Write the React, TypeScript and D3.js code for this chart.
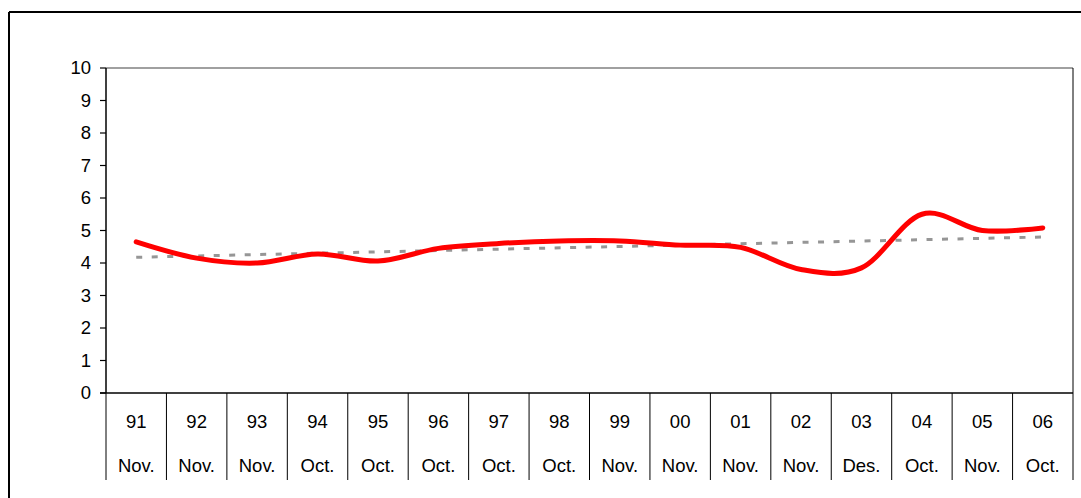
import React, { useEffect, useRef } from "react";
import * as d3 from "d3";

const years = ["91", "92", "93", "94", "95", "96", "97", "98", "99", "00", "01", "02", "03", "04", "05", "06"];
const months = ["Nov.", "Nov.", "Nov.", "Oct.", "Oct.", "Oct.", "Oct.", "Oct.", "Nov.", "Nov.", "Nov.", "Nov.", "Des.", "Oct.", "Nov.", "Oct."];
const values = [4.65, 4.15, 4.0, 4.28, 4.06, 4.45, 4.6, 4.68, 4.68, 4.55, 4.48, 3.8, 3.85, 5.5, 5.0, 5.08];
const yTicks = [0, 1, 2, 3, 4, 5, 6, 7, 8, 9, 10];

export default function App() {
  const svgRef = useRef<SVGSVGElement>(null);

  useEffect(() => {
    const width = 1081;
    const height = 498;
    const plot = { left: 106, right: 1073, top: 68, bottom: 393 };
    const font = "'Liberation Sans', Arial, sans-serif";
    const fontSize = "18.5px";

    const svg = d3.select(svgRef.current).attr("width", width).attr("height", height);
    svg.selectAll("*").remove();

    // outer chart frame (partly cut off)
    svg.append("line").attr("x1", 9).attr("x2", width).attr("y1", 12).attr("y2", 12)
      .attr("stroke", "#000").attr("stroke-width", 2);
    svg.append("line").attr("x1", 9).attr("x2", 9).attr("y1", 12).attr("y2", height)
      .attr("stroke", "#000").attr("stroke-width", 2);

    const x = d3.scaleBand().domain(years).range([plot.left, plot.right]);
    const y = d3.scaleLinear().domain([0, 10]).range([plot.bottom, plot.top]);

    // plot area top / right borders
    svg.append("line").attr("x1", plot.left).attr("x2", plot.right)
      .attr("y1", y(10)).attr("y2", y(10)).attr("stroke", "#808080").attr("stroke-width", 1.5);
    svg.append("line").attr("x1", plot.right).attr("x2", plot.right)
      .attr("y1", plot.top).attr("y2", plot.bottom).attr("stroke", "#000").attr("stroke-width", 1);

    // y axis
    svg.append("line").attr("x1", plot.left).attr("x2", plot.left)
      .attr("y1", plot.top).attr("y2", plot.bottom).attr("stroke", "#000").attr("stroke-width", 1.5);
    const yt = svg.append("g").selectAll("g").data(yTicks).enter().append("g");
    yt.append("line").attr("x1", plot.left - 6).attr("x2", plot.left)
      .attr("y1", (d) => y(d)).attr("y2", (d) => y(d)).attr("stroke", "#000").attr("stroke-width", 1.2);
    yt.append("text").attr("x", plot.left - 15).attr("y", (d) => y(d))
      .attr("dy", "0.35em").attr("text-anchor", "end")
      .attr("font-family", font).attr("font-size", fontSize).attr("fill", "#000")
      .text((d) => d);

    // x axis with two-level category table
    const sepBottom = 480;
    const cats = svg.append("g").selectAll("g").data(years).enter().append("g");
    cats.append("line")
      .attr("x1", (d) => x(d)!).attr("x2", (d) => x(d)!)
      .attr("y1", plot.bottom).attr("y2", sepBottom)
      .attr("stroke", "#000").attr("stroke-width", 1);
    svg.append("line").attr("x1", plot.right).attr("x2", plot.right)
      .attr("y1", plot.bottom).attr("y2", sepBottom).attr("stroke", "#000").attr("stroke-width", 1);
    cats.append("text")
      .attr("x", (d) => x(d)! + x.bandwidth() / 2).attr("y", 422).attr("dy", "0.35em")
      .attr("text-anchor", "middle").attr("font-family", font).attr("font-size", fontSize)
      .text((d) => d);
    cats.append("text")
      .attr("x", (d) => x(d)! + x.bandwidth() / 2).attr("y", 466).attr("dy", "0.35em")
      .attr("text-anchor", "middle").attr("font-family", font).attr("font-size", fontSize)
      .text((d, i) => months[i]);
    svg.append("line").attr("x1", plot.left - 6).attr("x2", plot.right)
      .attr("y1", plot.bottom).attr("y2", plot.bottom).attr("stroke", "#000").attr("stroke-width", 1.5);

    const cx = (i: number) => x(years[i])! + x.bandwidth() / 2;

    // linear trendline (least squares on the series)
    const n = values.length;
    const mx = d3.mean(values, (_, i) => i)!;
    const my = d3.mean(values)!;
    const slope = d3.sum(values, (v, i) => (i - mx) * (v - my)) / d3.sum(values, (_, i) => (i - mx) ** 2);
    const trend = [0, n - 1].map((i) => [cx(i), y(my + slope * (i - mx))] as [number, number]);
    svg.append("path")
      .attr("d", d3.line()(trend))
      .attr("fill", "none").attr("stroke", "#969696").attr("stroke-width", 3)
      .attr("stroke-dasharray", "6 9.5");

    // smoothed series
    const line = d3.line<number>()
      .x((d, i) => cx(i))
      .y((d) => y(d))
      .curve(d3.curveCardinal.tension(0));
    svg.append("path")
      .attr("d", line(values))
      .attr("fill", "none").attr("stroke", "#ff0000").attr("stroke-width", 5)
      .attr("stroke-linecap", "round").attr("stroke-linejoin", "round");
  }, []);

  return (
    <div style={{ position: "absolute", left: 0, top: 0 }}>
      <svg ref={svgRef} style={{ display: "block", background: "#fff" }}></svg>
    </div>
  );
}
